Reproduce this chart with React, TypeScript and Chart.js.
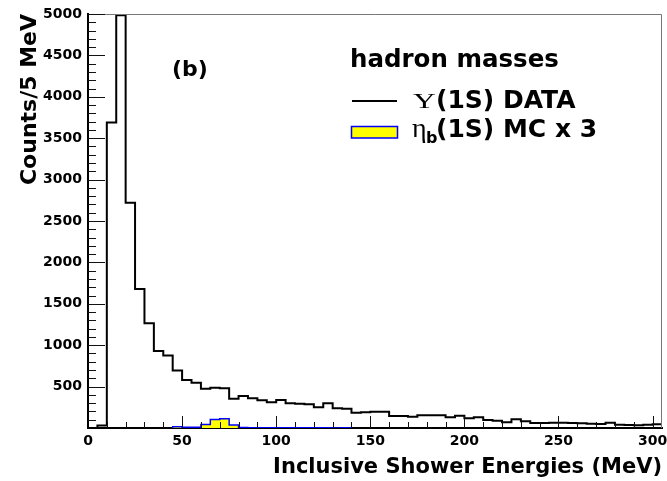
import { useEffect, useRef } from 'react';
import { Chart, registerables } from 'chart.js';

Chart.register(...registerables);

// ---- data (5 MeV bins starting at 0 MeV) ----
const binWidth = 5;
const xMin = 0;
const xMax = 305;
const yMin = 0;
const yMax = 5000;

const dataCounts = [
  0, 30, 3690, 4985, 2720, 1680, 1265, 930, 875, 695,
  580, 548, 475, 487, 480, 354, 386, 358, 334, 312,
  338, 298, 294, 286, 250, 298, 238, 233, 185, 190,
  196, 196, 145, 145, 137, 153, 153, 153, 129, 149,
  117, 129, 97, 89, 68, 105, 81, 60, 60, 64,
  64, 60, 56, 52, 48, 64, 40, 36, 32, 40,
  44,
];

const mcStart = 45;
const mcCounts = [16, 8, 10, 42, 102, 112, 36, 6, 4, 3, 3, 3, 3, 3, 3, 3, 3, 0, 3];

const xTickLabels = ['0', '50', '100', '150', '200', '250', '300'];
const yTickLabels = ['500', '1000', '1500', '2000', '2500', '3000', '3500', '4000', '4500', '5000'];
const xMajorStep = 50;
const xMinorStep = 10;
const yMajorStep = 500;
const yMinorStep = 100;

const xTitle = 'Inclusive Shower Energies (MeV)';
const yTitle = 'Counts/5 MeV';
const legendHeader = 'hadron masses';
const panelLabel = '(b)';

const FONT = "'DejaVu Sans'";

function histPoints(start: number, counts: number[], closeToZero: boolean) {
  const pts: { x: number; y: number }[] = [];
  if (closeToZero) pts.push({ x: start, y: 0 });
  counts.forEach((v, i) => pts.push({ x: start + i * binWidth, y: v }));
  const end = start + counts.length * binWidth;
  pts.push({ x: end, y: closeToZero ? 0 : counts[counts.length - 1] });
  return pts;
}

const decorPlugin = {
  id: 'rootDecor',
  afterDatasetsDraw(chart: any) {
    const { ctx, chartArea, scales } = chart;
    const xs = scales.x;
    const ys = scales.y;
    ctx.save();
    // frame top / right
    ctx.strokeStyle = '#777';
    ctx.lineWidth = 1;
    ctx.beginPath();
    ctx.moveTo(chartArea.left, chartArea.top + 0.5);
    ctx.lineTo(chartArea.right - 0.5, chartArea.top + 0.5);
    ctx.lineTo(chartArea.right - 0.5, chartArea.bottom);
    ctx.stroke();
    // inner ticks
    ctx.strokeStyle = '#111';
    ctx.lineWidth = 1;
    ctx.beginPath();
    for (let v = yMinorStep; v <= yMax; v += yMinorStep) {
      const y = Math.round(ys.getPixelForValue(v)) + 0.5;
      const len = v % yMajorStep === 0 ? 17 : 8;
      ctx.moveTo(chartArea.left, y);
      ctx.lineTo(chartArea.left + len, y);
    }
    for (let v = xMinorStep; v <= xMax; v += xMinorStep) {
      const x = Math.round(xs.getPixelForValue(v)) + 0.5;
      const len = v % xMajorStep === 0 ? 12 : 6;
      ctx.moveTo(x, chartArea.bottom);
      ctx.lineTo(x, chartArea.bottom - len);
    }
    ctx.stroke();
    ctx.restore();
  },
  afterDraw(chart: any) {
    const { ctx } = chart;
    ctx.save();
    ctx.fillStyle = '#000';
    ctx.textBaseline = 'alphabetic';
    ctx.textAlign = 'left';
    // panel label
    ctx.font = `bold 22px ${FONT}`;
    ctx.fillText(panelLabel, 172, 76);
    // legend header
    ctx.font = `bold 24.5px ${FONT}`;
    ctx.fillText(legendHeader, 350, 67);
    // data entry
    ctx.strokeStyle = '#000';
    ctx.lineWidth = 2;
    ctx.beginPath();
    ctx.moveTo(352, 101);
    ctx.lineTo(397, 101);
    ctx.stroke();
    ctx.save();
    ctx.translate(413, 108);
    ctx.scale(1.5, 1);
    ctx.font = `21px 'Liberation Serif'`;
    ctx.fillText('\u03A5', 0, 0);
    ctx.restore();
    ctx.font = `bold 25px ${FONT}`;
    ctx.fillText('(1S) DATA', 436, 108);
    // MC entry
    ctx.fillStyle = '#ffff00';
    ctx.fillRect(351.5, 126.5, 46, 11.5);
    ctx.strokeStyle = '#0000ff';
    ctx.lineWidth = 1.5;
    ctx.strokeRect(351.5, 126.5, 46, 11.5);
    ctx.fillStyle = '#000';
    ctx.font = `28px 'Liberation Serif'`;
    ctx.fillText('\u03B7', 412, 137);
    ctx.font = `bold 16px ${FONT}`;
    ctx.fillText('b', 426, 143);
    ctx.font = `bold 25px ${FONT}`;
    ctx.fillText('(1S) MC x 3', 436, 137);
    ctx.restore();
  },
};

export default function App() {
  const canvasRef = useRef<HTMLCanvasElement | null>(null);

  useEffect(() => {
    if (!canvasRef.current) return;
    const tickFont = { family: FONT, weight: 'bold' as const, size: 14 };
    const chart = new Chart(canvasRef.current, {
      type: 'line',
      data: {
        datasets: [
          {
            label: 'Y(1S) DATA',
            data: histPoints(0, dataCounts, false),
            stepped: 'before',
            borderColor: '#000',
            borderWidth: 2,
            pointRadius: 0,
            fill: false,
          },
          {
            label: 'eta_b(1S) MC x 3',
            data: histPoints(mcStart, mcCounts, true),
            stepped: 'before',
            borderColor: '#0000ff',
            borderWidth: 1.5,
            backgroundColor: '#ffff00',
            fill: 'origin',
            pointRadius: 0,
          },
        ],
      },
      options: {
        responsive: false,
        animation: false,
        layout: { padding: { top: 14, right: 5, left: 0, bottom: 0 } },
        plugins: {
          legend: { display: false },
          tooltip: { enabled: false },
          title: { display: false },
        },
        scales: {
          x: {
            type: 'linear',
            min: xMin,
            max: xMax,
            grid: { display: false, drawTicks: false },
            border: { display: true, color: '#000', width: 2 },
            ticks: {
              stepSize: xMajorStep,
              includeBounds: false,
              autoSkip: false,
              maxRotation: 0,
              padding: 5,
              color: '#000',
              font: tickFont,
              callback: (v: any) => (xTickLabels.includes(String(v)) ? String(v) : ''),
            },
            title: {
              display: true,
              text: xTitle,
              align: 'end',
              color: '#000',
              font: { family: FONT, weight: 'bold', size: 21 },
              padding: { top: 0, bottom: 1 },
            },
            afterFit: (s: any) => {
              s.height = 53;
              s.paddingLeft = 0;
              s.paddingRight = 0;
            },
          },
          y: {
            type: 'linear',
            min: yMin,
            max: yMax,
            grid: { display: false, drawTicks: false },
            border: { display: true, color: '#000', width: 2 },
            ticks: {
              stepSize: yMajorStep,
              autoSkip: false,
              padding: 6,
              color: '#000',
              font: tickFont,
              callback: (v: any) => (yTickLabels.includes(String(v)) ? String(v) : ''),
            },
            title: {
              display: true,
              text: yTitle,
              align: 'end',
              color: '#000',
              font: { family: FONT, weight: 'bold', size: 22 },
              padding: { top: 17, bottom: 0 },
            },
            afterFit: (s: any) => {
              s.width = 88;
              s.paddingTop = 0;
              s.paddingBottom = 0;
            },
          },
        },
      },
      plugins: [decorPlugin],
    });
    return () => chart.destroy();
  }, []);

  return (
    <div style={{ position: 'absolute', left: 0, top: 0, width: 667, height: 481, background: '#fff' }}>
      <canvas ref={canvasRef} width={667} height={481} />
    </div>
  );
}
